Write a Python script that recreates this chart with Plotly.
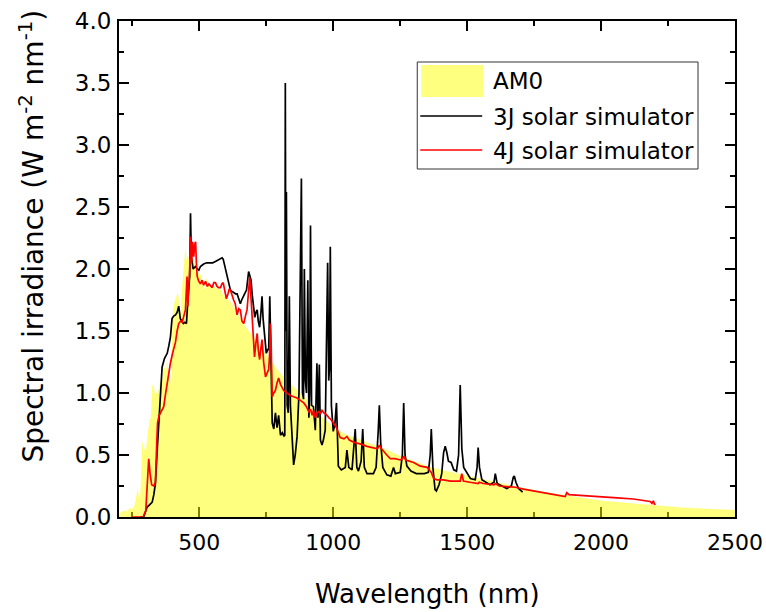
import plotly.graph_objects as go

# ---------------- data ----------------
am0_wl = [200, 210, 220, 230, 240, 250, 260, 265, 270, 275, 280, 285, 288, 292, 296, 300,
          305, 310, 315, 320, 325, 330, 335, 340, 345, 350, 355, 360, 365, 370, 375, 380,
          383, 388, 393, 397, 400, 405, 410, 415, 420, 425, 430, 435, 440, 445, 448, 452,
          456, 460, 465, 470, 475, 480, 485, 488, 492, 496, 500, 505, 510, 515, 520, 525,
          530, 535, 540, 550, 560, 570, 580, 590, 600, 620, 640, 660, 680, 700, 720, 740,
          760, 780, 800, 850, 900, 950, 1000, 1050, 1100, 1150, 1200, 1250, 1300, 1350,
          1400, 1450, 1500, 1600, 1700, 1800, 1900, 2000, 2100, 2200, 2300, 2400, 2500]
am0_val = [0.02, 0.04, 0.05, 0.04, 0.07, 0.06, 0.10, 0.18, 0.22, 0.12, 0.15, 0.40, 0.60, 0.45,
           0.55, 0.50, 0.62, 0.70, 0.78, 0.80, 1.06, 1.05, 0.95, 1.00, 0.98, 1.05, 1.10, 1.00,
           1.18, 1.20, 1.12, 1.25, 1.10, 1.20, 1.05, 1.10, 1.55, 1.70, 1.75, 1.78, 1.80, 1.70,
           1.55, 1.80, 1.95, 2.05, 2.15, 2.05, 2.10, 2.08, 2.02, 2.06, 2.08, 2.07, 1.95, 2.00,
           1.90, 1.97, 1.92, 1.95, 1.90, 1.85, 1.82, 1.92, 1.90, 1.86, 1.85, 1.87, 1.84, 1.84,
           1.83, 1.78, 1.77, 1.72, 1.64, 1.57, 1.51, 1.45, 1.39, 1.33, 1.27, 1.22, 1.16, 1.05,
           0.95, 0.82, 0.72, 0.66, 0.62, 0.58, 0.54, 0.49, 0.45, 0.41, 0.38, 0.355, 0.33, 0.28,
           0.235, 0.195, 0.16, 0.13, 0.11, 0.09, 0.075, 0.063, 0.055]

sim3j_wl = [280, 292, 300, 305, 315, 324, 330, 336, 343, 349, 355, 361, 370, 380, 386, 392,
            398, 404, 411, 417, 423, 429, 435, 440, 446, 452, 457, 462, 464, 467, 470, 477,
            485, 492, 498, 504, 510, 516, 528, 541, 550, 560, 570, 579, 585, 589, 595, 601,
            608, 616, 622, 628, 635, 641, 647, 653, 658, 663, 669, 676, 680, 684, 688, 693,
            697, 701, 707, 711, 716, 720, 725, 730, 734, 738, 743, 750, 755, 759, 763, 766,
            770, 772, 778, 784, 790, 796, 803, 810, 816, 819, 821, 823, 825, 828, 832, 836,
            840, 846, 852, 858, 865, 872, 876, 881, 885, 889, 892, 896, 900, 905, 909, 912,
            915, 919, 926, 933, 939, 943, 948, 952, 958, 963, 970, 975, 979, 983, 986, 989,
            993, 1000, 1006, 1012, 1016, 1019, 1030, 1045, 1051, 1058, 1070, 1082, 1088, 1094,
            1104, 1110, 1116, 1126, 1150, 1160, 1168, 1172, 1177, 1185, 1200, 1215, 1225, 1232,
            1250, 1258, 1263, 1268, 1275, 1290, 1310, 1340, 1355, 1362, 1366, 1372, 1380, 1385,
            1395, 1405, 1412, 1418, 1424, 1430, 1440, 1450, 1460, 1468, 1474, 1480, 1487, 1495,
            1512, 1530, 1537, 1541, 1546, 1555, 1585, 1600, 1605, 1612, 1630, 1648, 1665, 1672,
            1676, 1682, 1692, 1700, 1707]
sim3j_val = [0.0, 0.0, 0.05, 0.08, 0.10, 0.12, 0.18, 0.27, 0.55, 0.81, 1.05, 1.21, 1.28, 1.32,
             1.38, 1.45, 1.60, 1.62, 1.63, 1.65, 1.70, 1.60, 1.58, 1.56, 1.57, 1.56, 1.75, 1.90,
             1.94, 2.45, 2.10, 2.00, 2.02, 2.00, 1.99, 2.02, 2.03, 2.04, 2.05, 2.05, 2.05, 2.06,
             2.07, 2.08, 2.09, 2.08, 2.02, 1.97, 1.90, 1.83, 1.82, 1.81, 1.80, 1.80, 1.76, 1.72,
             1.75, 1.78, 1.80, 1.83, 1.90, 1.98, 1.95, 1.91, 1.80, 1.72, 1.61, 1.65, 1.67, 1.58,
             1.53, 1.65, 1.78, 1.60, 1.48, 1.32, 1.35, 1.35, 1.78, 1.50, 0.95, 0.76, 0.71, 0.84,
             0.72, 0.82, 0.66, 0.68, 0.65, 0.66, 3.50, 1.50, 2.62, 0.90, 0.84, 1.78, 0.90, 0.60,
             0.42, 0.50, 0.65, 1.00, 1.80, 2.73, 1.00, 0.95, 2.00, 1.10, 1.00, 1.91, 0.80, 1.00,
             2.35, 0.90, 0.89, 0.70, 1.24, 0.80, 1.23, 0.62, 0.58, 0.62, 0.70, 1.50, 2.05, 1.10,
             1.20, 2.18, 0.90, 0.69, 0.75, 0.92, 0.55, 0.41, 0.38, 0.40, 0.54, 0.40, 0.38, 0.71,
             0.40, 0.37, 0.45, 0.71, 0.40, 0.35, 0.35, 0.40, 0.70, 0.90, 0.60, 0.40, 0.34, 0.33,
             0.40, 0.35, 0.36, 0.50, 0.92, 0.50, 0.41, 0.37, 0.35, 0.35, 0.36, 0.50, 0.71, 0.40,
             0.22, 0.21, 0.26, 0.35, 0.52, 0.57, 0.52, 0.45, 0.44, 0.38, 0.37, 0.50, 1.065, 0.55,
             0.40, 0.37, 0.31, 0.30, 0.40, 0.56, 0.40, 0.30, 0.26, 0.28, 0.35, 0.27, 0.25, 0.23,
             0.25, 0.32, 0.33, 0.28, 0.23, 0.21, 0.20]

sim4j_wl = [250, 290, 300, 305, 308, 311, 316, 322, 330, 336, 341, 344, 350, 355, 361, 367,
            373, 380, 386, 392, 400, 405, 411, 417, 423, 430, 436, 442, 448, 451, 454, 457,
            460, 464, 467, 471, 475, 479, 483, 486, 489, 492, 498, 504, 510, 516, 523, 530,
            536, 541, 548, 554, 560, 566, 572, 579, 584, 589, 595, 601, 607, 612, 616, 622,
            628, 634, 641, 647, 653, 659, 666, 672, 678, 683, 688, 692, 697, 702, 706, 711,
            716, 720, 725, 730, 734, 740, 747, 753, 759, 762, 765, 768, 772, 778, 784, 790,
            796, 803, 815, 827, 840, 852, 865, 877, 890, 900, 908, 915, 921, 926, 933, 940,
            946, 952, 958, 965, 971, 977, 984, 990, 1000, 1012, 1026, 1040, 1051, 1060, 1080,
            1100, 1126, 1150, 1165, 1172, 1180, 1200, 1213, 1230, 1250, 1258, 1263, 1270, 1300,
            1325, 1351, 1362, 1366, 1375, 1387, 1411, 1437, 1465, 1474, 1480, 1486, 1510, 1541,
            1545, 1560, 1600, 1605, 1620, 1672, 1680, 1710, 1750, 1810, 1860, 1866, 1872, 1880,
            1934, 1997, 2060, 2121, 2183, 2190, 2195, 2200, 2202]
sim4j_val = [0.0, 0.0, 0.05, 0.30, 0.45, 0.47, 0.35, 0.26, 0.25, 0.28, 0.60, 0.76, 0.82, 0.84,
             0.87, 0.89, 0.98, 1.08, 1.15, 1.24, 1.32, 1.36, 1.41, 1.50, 1.56, 1.58, 1.57, 1.62,
             1.67, 1.80, 1.94, 1.70, 1.82, 2.00, 2.26, 2.05, 2.22, 2.10, 2.20, 2.22, 2.05, 1.94,
             1.90, 1.88, 1.91, 1.87, 1.90, 1.86, 1.88, 1.87, 1.85, 1.89, 1.89, 1.86, 1.85, 1.85,
             1.88, 1.89, 1.82, 1.76, 1.80, 1.84, 1.83, 1.78, 1.75, 1.72, 1.63, 1.68, 1.67, 1.58,
             1.56, 1.62, 1.67, 1.80, 1.93, 1.80, 1.61, 1.40, 1.29, 1.40, 1.48, 1.35, 1.27, 1.36,
             1.43, 1.25, 1.13, 1.16, 1.19, 1.30, 1.56, 1.40, 0.97, 1.00, 1.02, 1.08, 1.12, 1.07,
             1.02, 1.00, 0.98, 0.97, 0.96, 0.94, 0.92, 0.89, 0.85, 0.87, 0.82, 0.86, 0.80, 0.84,
             0.85, 0.83, 0.86, 0.84, 0.83, 0.82, 0.80, 0.79, 0.76, 0.72, 0.64, 0.63, 0.65, 0.62,
             0.60, 0.59, 0.57, 0.56, 0.55, 0.58, 0.55, 0.50, 0.47, 0.47, 0.46, 0.47, 0.49, 0.46,
             0.44, 0.41, 0.40, 0.37, 0.36, 0.31, 0.30, 0.30, 0.29, 0.29, 0.29, 0.35, 0.29, 0.28,
             0.27, 0.28, 0.27, 0.26, 0.27, 0.25, 0.245, 0.24, 0.225, 0.21, 0.19, 0.17, 0.165,
             0.196, 0.18, 0.172, 0.165, 0.155, 0.145, 0.125, 0.11, 0.13, 0.10, 0.11]

legend_labels = ["AM0", "3J solar simulator", "4J solar simulator"]
x_title = "Wavelength (nm)"
y_title = "Spectral irradiance (W m<sup>-2</sup> nm<sup>-1</sup>)"

# ---------------- layout geometry ----------------
W, H = 766, 612
L, R, T, B = 118.5, 735.0, 21.0, 517.0
FONT = "DejaVu Sans"


def px(xp):
    return (xp - L) / (R - L)


def py(yp):
    return (B - yp) / (B - T)


fig = go.Figure()
fig.add_trace(go.Scatter(x=am0_wl, y=am0_val, mode="lines", fill="tozeroy",
                         fillcolor="rgba(255,255,0,0.5)",
                         line=dict(color="rgba(255,255,0,0.5)", width=0.5),
                         name=legend_labels[0], showlegend=False))
fig.add_trace(go.Scatter(x=sim3j_wl, y=sim3j_val, mode="lines",
                         line=dict(color="black", width=1.7),
                         name=legend_labels[1], showlegend=False))
fig.add_trace(go.Scatter(x=sim4j_wl, y=sim4j_val, mode="lines",
                         line=dict(color="#ff0000", width=1.7),
                         name=legend_labels[2], showlegend=False))

axis_common = dict(showline=True, linecolor="black", linewidth=2, mirror="allticks",
                   ticks="inside", ticklen=10, tickwidth=1.5, tickcolor="black",
                   showgrid=False, zeroline=False, layer="below traces", automargin=False)

fig.update_xaxes(range=[200, 2500], tick0=0, dtick=500, ticklabelstandoff=5,
                 tickfont=dict(family=FONT, size=22, color="black"),
                 minor=dict(ticks="inside", ticklen=5, tickwidth=1.5, tickcolor="black",
                            tick0=0, dtick=250, showgrid=False),
                 **axis_common)
fig.update_yaxes(range=[0, 4.0], tick0=0, dtick=0.5, tickformat=".1f", ticklabelstandoff=1,
                 tickfont=dict(family=FONT, size=23, color="black"),
                 minor=dict(ticks="inside", ticklen=5, tickwidth=1.5, tickcolor="black",
                            tick0=0, dtick=0.25, showgrid=False),
                 **axis_common)

# manual legend
shapes = [
    dict(type="rect", xref="paper", yref="paper", x0=px(417), x1=px(698), y0=py(169), y1=py(62),
         line=dict(color="#333333", width=1), fillcolor="white", layer="above"),
    dict(type="rect", xref="paper", yref="paper", x0=px(421), x1=px(483), y0=py(97), y1=py(65),
         line=dict(width=0), fillcolor="rgba(255,255,0,0.5)", layer="above"),
    dict(type="line", xref="paper", yref="paper", x0=px(420), x1=px(482), y0=py(116), y1=py(116),
         line=dict(color="black", width=1.7), layer="above"),
    dict(type="line", xref="paper", yref="paper", x0=px(420), x1=px(482), y0=py(150), y1=py(150),
         line=dict(color="#ff0000", width=1.7), layer="above"),
]
annotations = []
for lab, yc in zip(legend_labels, [81, 117, 151]):
    annotations.append(dict(xref="paper", yref="paper", x=px(491), y=py(yc), text=lab,
                            showarrow=False, xanchor="left", yanchor="middle",
                            font=dict(family=FONT, size=23, color="black")))
annotations.append(dict(xref="paper", yref="paper", x=px(427), y=py(594), text=x_title,
                        showarrow=False, xanchor="center", yanchor="middle",
                        font=dict(family=FONT, size=26, color="black")))
annotations.append(dict(xref="paper", yref="paper", x=px(31), y=py(236), text=y_title,
                        showarrow=False, xanchor="center", yanchor="middle", textangle=-90,
                        font=dict(family=FONT, size=28, color="black")))

fig.update_layout(width=W, height=H,
                  margin=dict(l=L, r=W - R, t=T, b=H - B, autoexpand=False),
                  paper_bgcolor="white", plot_bgcolor="white", showlegend=False,
                  shapes=shapes, annotations=annotations)

fig.write_html("out.html")
